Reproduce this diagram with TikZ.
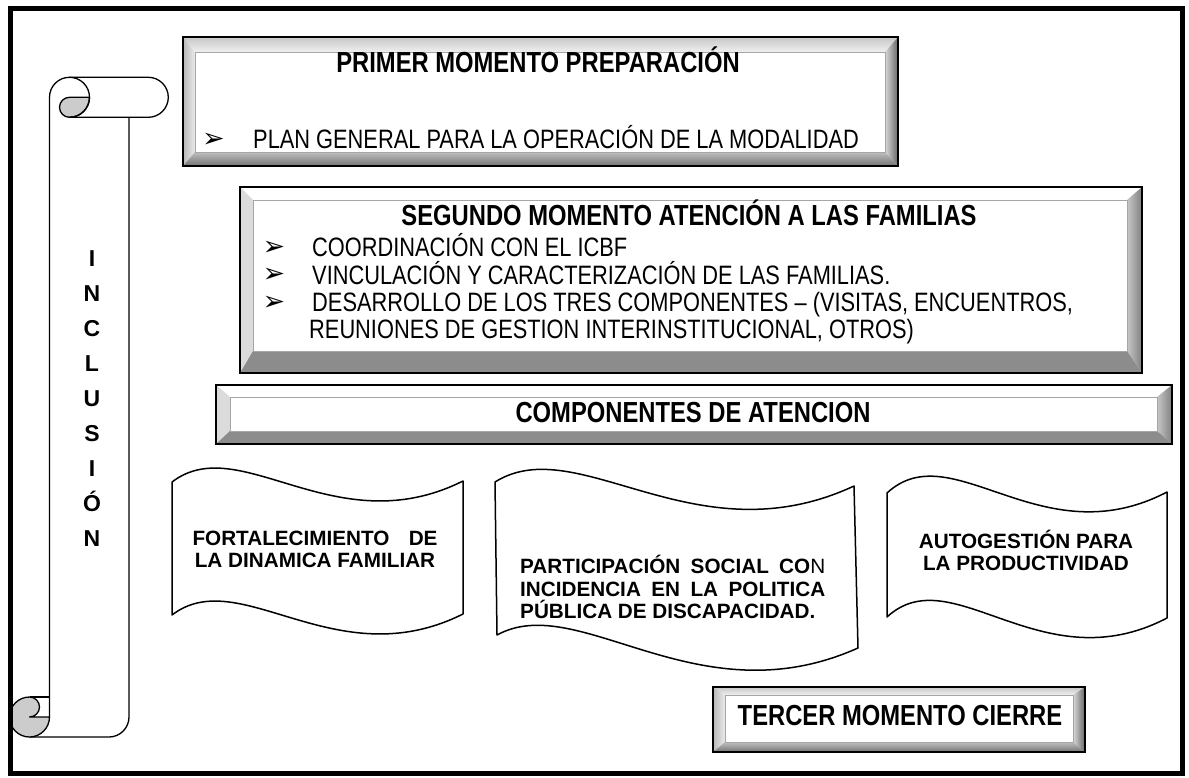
\documentclass[tikz,border=0pt]{standalone}
\usepackage{fontspec}
\setmainfont{Liberation Sans}
\newfontfamily\narrowfont[FakeStretch=0.82]{Liberation Sans}
\newfontfamily\symfont{DejaVu Sans}
\tikzset{
  outerframe/.style={draw=black,line width=5pt},
  scrollline/.style={draw=black,line width=1.3pt,line join=round},
  curlfill/.style={fill=black!20,draw=black,line width=1.3pt,line join=round},
  wave/.style={draw=black,line width=1.5pt,fill=white,line join=round},
  boxedge/.style={draw=black,line width=2pt},
  titletext/.style={font=\narrowfont\bfseries\fontsize{29}{34}\selectfont,inner sep=0pt,anchor=base},
  itemtext/.style={font=\narrowfont\fontsize{26.6}{31}\selectfont,inner sep=0pt,anchor=base west},
  bullettext/.style={font=\symfont\fontsize{27}{30}\selectfont,inner sep=0pt,anchor=base},
  wavetext/.style={font=\bfseries\fontsize{20.7}{24}\selectfont,inner sep=0pt,anchor=base},
  vletter/.style={font=\bfseries\fontsize{23}{27}\selectfont,inner sep=0pt,anchor=base},
  % bevel styles, type pm (all round gradient)
  pmtop/.style={shade,top color=black!22,bottom color=black!6},
  pmleft/.style={shade,left color=black!28,right color=black!8},
  pmright/.style={shade,left color=black!15,right color=black!60},
  pmbot/.style={shade,top color=black!25,bottom color=black!55},
  pmface/.style={fill=white,draw=black!35,line width=0.6pt},
  % bevel styles, type sg (flat light left, dark bottom)
  sgtop/.style={fill=white},
  sgleft/.style={fill=black!14},
  sgright/.style={shade,left color=black!22,right color=black!50},
  sgbot/.style={fill=black!45},
  sgface/.style={fill=white,draw=black!35,line width=0.6pt},
}
\newcommand\bevbox[9]{%
  \path[#1top] (#2,#3) -- (#4,#3) -- (#4-#8,#3+#6) -- (#2+#7,#3+#6) -- cycle;
  \path[#1left] (#2,#3) -- (#2+#7,#3+#6) -- (#2+#7,#5-#9) -- (#2,#5) -- cycle;
  \path[#1right] (#4,#3) -- (#4,#5) -- (#4-#8,#5-#9) -- (#4-#8,#3+#6) -- cycle;
  \path[#1bot] (#2,#5) -- (#2+#7,#5-#9) -- (#4-#8,#5-#9) -- (#4,#5) -- cycle;
  \path[#1face] (#2+#7,#3+#6) rectangle (#4-#8,#5-#9);
  \draw[boxedge] (#2,#3) rectangle (#4,#5);
}
\begin{document}
\begin{tikzpicture}[x=1pt,y=-1pt]
\useasboundingbox (0,0) rectangle (1189,778);
\fill[white] (0,0) rectangle (1189,778);

% ---------- scroll ----------
\filldraw[curlfill] (89.5,97.3) -- (69.5,97.3) arc[start angle=270,end angle=90,radius=10]
  arc[start angle=90,end angle=0,radius=20] -- cycle;
\draw[scrollline] (49.5,717) -- (49.5,97.3) arc[start angle=180,end angle=270,radius=20]
  -- (148.3,77.3) arc[start angle=270,end angle=450,radius=20] -- (69.5,117.3);
\draw[scrollline] (69.5,77.3) arc[start angle=270,end angle=450,radius=20];
\draw[scrollline] (129,117.3) -- (129,717) arc[start angle=0,end angle=90,radius=20] -- (29.5,737);
\filldraw[curlfill] (29.5,697) arc[start angle=270,end angle=450,radius=10]
  -- (49.5,717) arc[start angle=0,end angle=270,radius=20] -- cycle;
\draw[scrollline] (29.5,697) -- (49.5,697);

\node[vletter] (l1) at (92,266) {I};
\node[vletter] (l2) at (92,301) {N};
\node[vletter] (l3) at (92,336) {C};
\node[vletter] (l4) at (92,371) {L};
\node[vletter] (l5) at (92,406) {U};
\node[vletter] (l6) at (92,441) {S};
\node[vletter] (l7) at (92,476) {I};
\node[vletter] (l8) at (92,511) {Ó};
\node[vletter] (l9) at (92,546) {N};

% ---------- boxes ----------
\bevbox{pm}{183}{37}{898}{166}{15}{12}{13}{14}
\node[titletext] (t1) at (538,73) {PRIMER MOMENTO PREPARACIÓN};
\node[bullettext] (b1) at (213.5,148) {➢};
\node[itemtext] (p1) at (253,149) {PLAN GENERAL PARA LA OPERACIÓN DE LA MODALIDAD};

\bevbox{sg}{240}{187}{1142}{373}{13}{13}{15}{22}
\node[titletext] (t2) at (689,226) {SEGUNDO MOMENTO ATENCIÓN A LAS FAMILIAS};
\node[bullettext] (b2) at (274,256) {➢};
\node[bullettext] (b3) at (274,283) {➢};
\node[bullettext] (b4) at (274,310) {➢};
\node[itemtext] (s1) at (312,257) {COORDINACIÓN CON EL ICBF};
\node[itemtext] (s2) at (312,284) {VINCULACIÓN Y CARACTERIZACIÓN DE LAS FAMILIAS.};
\node[itemtext] (s3) at (312,311) {DESARROLLO DE LOS TRES COMPONENTES – (VISITAS, ENCUENTROS,};
\node[itemtext] (s4) at (309,338) {REUNIONES DE GESTION INTERINSTITUCIONAL, OTROS)};

\bevbox{sg}{216}{385}{1172}{444}{12}{14}{15}{13}
\node[titletext] (t3) at (693,422.5) {COMPONENTES DE ATENCION};

\bevbox{pm}{713}{687}{1085}{752}{8}{12}{12}{10}
\node[titletext] (t4) at (900,725) {TERCER MOMENTO CIERRE};

% ---------- waves ----------
\draw[wave] (172,482) .. controls (240,430) and (335,545) .. (463,481) -- (463,614)
  .. controls (335,678) and (240,563) .. (172,615) -- cycle;
\node[wavetext] (w1a) at (315,545) {\makebox[245pt][s]{FORTALECIMIENTO DE}};
\node[wavetext] (w1b) at (315,567) {LA DINAMICA FAMILIAR};

\draw[wave] (495,482) .. controls (578,430) and (695,560) .. (854,486) -- (858,648)
  .. controls (697,720) and (579,590) .. (497,635) -- cycle;
\node[wavetext,anchor=base west] (w2a) at (520,573) {\makebox[305pt][s]{PARTICIPACIÓN SOCIAL CO{\mdseries N}}};
\node[wavetext,anchor=base west] (w2b) at (520,596) {\makebox[305pt][s]{INCIDENCIA EN LA POLITICA}};
\node[wavetext,anchor=base west] (w2c) at (520,618) {PÚBLICA DE DISCAPACIDAD.};

\draw[wave] (887,493) .. controls (952,433) and (1041,558) .. (1167,492) -- (1167,618)
  .. controls (1041,684) and (952,557) .. (887,617) -- cycle;
\node[wavetext] (w3a) at (1026,548) {AUTOGESTIÓN PARA};
\node[wavetext] (w3b) at (1026,570) {LA PRODUCTIVIDAD};

% ---------- outer frame ----------
\draw[outerframe] (10.8,8.5) rectangle (1182.5,773);
\end{tikzpicture}
\end{document}
